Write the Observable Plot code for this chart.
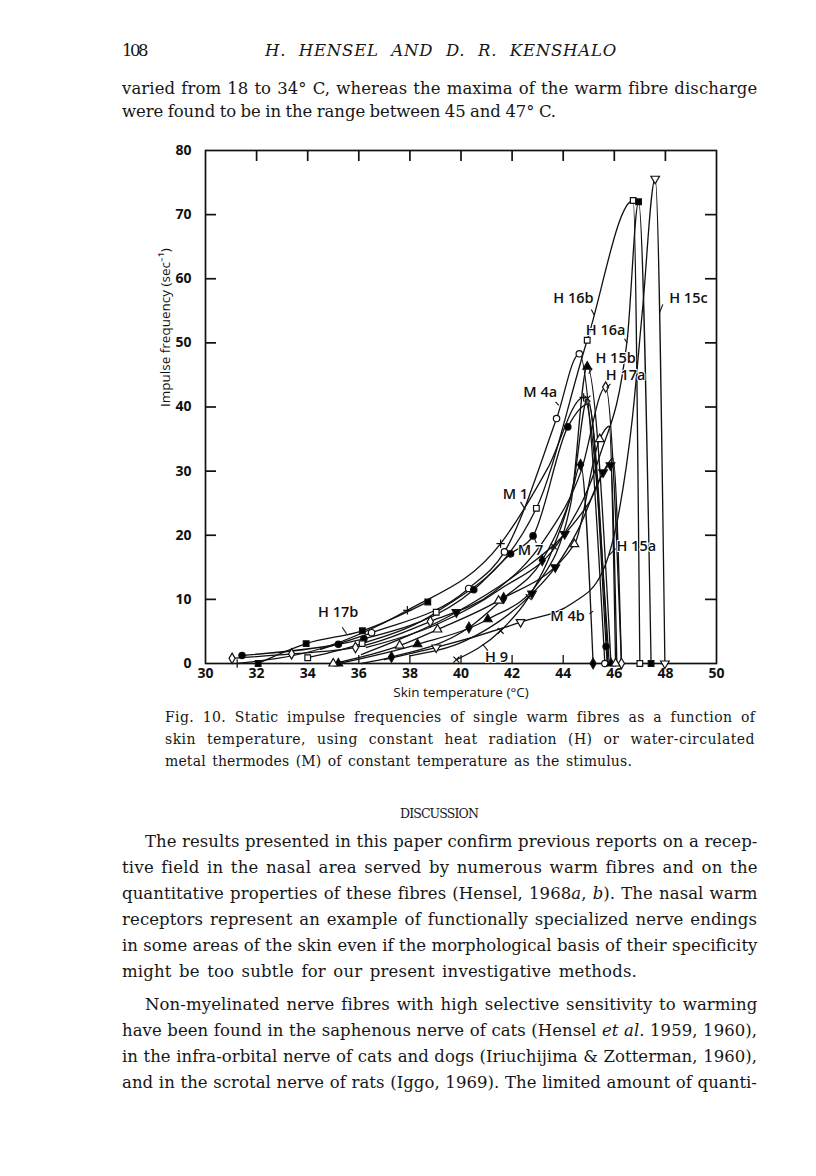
<!DOCTYPE html>
<html><head><meta charset="utf-8">
<script src="https://cdn.jsdelivr.net/npm/d3@7"></script>
<script src="https://cdn.jsdelivr.net/npm/@observablehq/plot@0.6"></script>
<style>
body{margin:0;background:#fff;}
#page{position:relative;width:816px;height:1176px;overflow:hidden;font-family:"DejaVu Serif",serif;color:#161616;background:#fff;}
.ln{position:absolute;white-space:nowrap;line-height:1;}
#chart{position:absolute;left:0;top:130px;}
</style></head><body><div id="page"><div id="chart"></div></div>
<script>
// ---------- data ----------
const xLabelTicks = [30,32,34,36,38,40,42,44,46,48,50];
const yLabelTicks = [0,10,20,30,40,50,60,70,80];
const topTicks = [32,34,36,38,40,42,44,46,48];
const sideTicks = [10,20,30,40,50,60,70];
const bottomTicks = [36,38,40,42,44];
const xTitle = "Skin temperature (°C)";
const yTitle = "Impulse frequency (sec⁻¹)";

// [temperature °C, impulses/s, marker shown]
const H17b = [[32.06,0,1],[33.94,3.1,1],[36.14,5.1,1],[38.7,9.6,1]];
const H17a = [[31.04,0.8,1],[33.37,1.5,1],[35.87,2.5,1],[38.8,6.55,1],[41.3,11.2,0],[43.3,19.5,0],[44.7,30,0],[45.66,43.1,1],[46.28,0,1]];
const M4a  = [[34.5,2.2,0],[36.5,4.8,1],[40.3,11.7,1],[41.7,17.4,1],[43.74,38.2,1],[44.63,48.3,1],[45.63,0,1]];
const M1   = [[31.24,0,1],[34.5,2.3,0],[37.9,8.3,1],[41.55,18.7,1],[43.4,30.5,0],[44.8,41.5,1],[45.8,0,0]];
const M7   = [[31.43,1.25,1],[35.2,3.0,1],[36.2,3.85,1],[40.5,11.5,1],[41.94,17.1,1],[42.82,19.9,1],[44.18,36.9,1],[45.0,40.5,0],[45.68,2.65,1],[45.72,0,0]];
const H16b = [[34.0,0.9,1],[36.13,3.1,1],[39.03,8.0,1],[42.95,24.2,1],[44.94,50.4,1],[46.74,72.2,1],[47.0,0,1]];
const H16a = [[36.3,2.5,0],[39.0,6.0,0],[41.5,11.5,0],[44.0,20,0],[45.4,32,0],[46.5,50.3,0],[46.95,72,1],[47.44,0,1]];
const H15c = [[37.0,0.6,0],[39.03,2.5,1],[42.33,6.45,1],[44.4,9.5,0],[45.5,14,0],[46.2,24,0],[46.7,38,0],[47.1,55,0],[47.6,75.6,1],[47.98,0,1]];
const H15a = [[36.1,1.4,0],[39.82,8.0,1],[42.2,14,0],[44.06,20.2,1],[45.0,25,0],[45.85,30.9,1],[46.1,0,0]];
const M4b  = [[38.0,1.2,0],[40.2,3.6,0],[42.78,10.9,1],[43.69,15,1],[44.6,21,0],[45.56,29.8,1],[45.95,32,0],[46.28,0,0]];
const H15b = [[35.2,0,1],[38.3,3.0,1],[41.05,6.9,1],[43.0,12.5,0],[44.3,25,0],[44.94,46.3,1],[45.87,0,1]];
const H9   = [[39.82,0.6,1],[41.55,5.1,1],[42.65,10.35,1],[43.63,18.25,1],[44.4,28,0],[44.95,41.3,1],[45.75,0,0]];
const OT   = [[35.0,0,1],[37.6,2.8,1],[39.08,5.3,1],[41.47,9.8,1],[44.44,18.6,1],[45.43,35,1],[45.8,37,0],[46.05,0,1]];
const FD   = [[36.1,0,0],[37.28,1.0,1],[40.31,5.6,1],[41.67,10.2,1],[43.18,16.1,1],[44.3,26,0],[44.68,31,1],[45.17,0,1]];

const labelText = ["H 16b","H 16a","H 15c","H 15b","H 17a","M 4a","M 1","M 7","H 15a","M 4b","H 17b","H 9"];
const labelX    = [44.40,45.66,48.9,46.05,46.44,43.1,42.13,42.72,46.86,44.17,35.19,41.39];
const labelY    = [56.9,51.9,56.9,47.6,44.9,42.3,26.4,17.6,18.3,7.35,8.0,1.0];
const leadX1    = [45.1,46.4,47.9,45.13,45.85,43.7,42.33,42.95,46.05,45.03,35.35,41.05];
const leadY1    = [55.2,50.65,56.0,46.0,43.6,40.8,25.2,18.8,17.9,7.75,5.66,2.0];
const leadX2    = [45.22,46.5,47.76,45.0,45.7,43.83,42.52,42.88,45.79,45.17,35.52,40.85];
const leadY2    = [54.3,50.0,54.6,45.2,43.0,40.25,24.0,19.4,16.85,8.16,4.63,3.0];

// ---------- symbols ----------
const invTriangle = {draw(ctx, size){
  const s3 = Math.sqrt(3), y = -Math.sqrt(size/(s3*3));
  ctx.moveTo(0, -y*2); ctx.lineTo(-s3*y, y); ctx.lineTo(s3*y, y); ctx.closePath();
}};
const series = [
  {d:H17b, sym:"square", fill:"black"},
  {d:H17a, sym:"diamond", fill:"white"},
  {d:M4a, sym:"circle", fill:"white"},
  {d:M1, sym:"plus", fill:"none"},
  {d:M7, sym:"circle", fill:"black"},
  {d:H16b, sym:"square", fill:"white"},
  {d:H16a, sym:"square", fill:"black"},
  {d:H15c, sym:invTriangle, fill:"white"},
  {d:H15a, sym:invTriangle, fill:"black"},
  {d:M4b, sym:invTriangle, fill:"black"},
  {d:H15b, sym:"triangle", fill:"black"},
  {d:H9, sym:"times", fill:"none"},
  {d:OT, sym:"triangle", fill:"white"},
  {d:FD, sym:"diamond", fill:"black"}
];

const lineMarks = series.map(s => Plot.line(s.d, {x:d=>d[0], y:d=>d[1], curve:"monotone-x", stroke:"#111", strokeWidth:1.3}));
const dotMarks = series.map(s => Plot.dot(s.d.filter(d=>d[2]), {x:d=>d[0], y:d=>d[1], symbol:s.sym,
  fill:s.fill, stroke:"#111", strokeWidth:1.2, r:(s.sym==="plus"||s.sym==="times")?2.8:3.2}));
const labelIdx = labelText.map((_,i)=>i);

const plot = Plot.plot({
  width:816, height:580,
  marginLeft:205, marginRight:100, marginTop:20, marginBottom:47,
  x:{domain:[30,50]}, y:{domain:[0,80]},
  style:{fontFamily:"'Open Sans', sans-serif", fontSize:"13px", color:"#111", background:"white"},
  marks:[
    Plot.frame({stroke:"#111", strokeWidth:1.7}),
    Plot.axisX({ticks:xLabelTicks, tickSize:0, tickPadding:5, tickFormat:d=>String(d), label:null, fontWeight:700, fontSize:14}),
    Plot.axisY({ticks:yLabelTicks, tickSize:0, tickPadding:14, tickFormat:d=>String(d), label:null, fontWeight:700, fontSize:14}),
    Plot.ruleX(topTicks, {x:d=>d, insetBottom:502, stroke:"#111", strokeWidth:1.7}),
    Plot.ruleX(bottomTicks, {x:d=>d, insetTop:505, stroke:"#111", strokeWidth:1.3}),
    Plot.ruleY(sideTicks, {y:d=>d, insetRight:500, stroke:"#111", strokeWidth:1.7}),
    Plot.ruleY(sideTicks, {y:d=>d, insetLeft:500, stroke:"#111", strokeWidth:1.7}),
    ...lineMarks,
    ...dotMarks,
    Plot.link(labelIdx, {x1:i=>leadX1[i], y1:i=>leadY1[i], x2:i=>leadX2[i], y2:i=>leadY2[i], stroke:"#111", strokeWidth:1.1}),
    Plot.text(labelIdx, {x:i=>labelX[i], y:i=>labelY[i], text:i=>labelText[i], fontSize:14.5, fontWeight:600, fill:"#111", stroke:"white", strokeWidth:2, paintOrder:"stroke"}),
    Plot.text([xTitle], {frameAnchor:"bottom", dy:33, text:d=>d, fontSize:13.5, fill:"#111"}),
    Plot.text([yTitle], {frameAnchor:"left", dx:-40, rotate:-90, text:d=>d, fontSize:13.5, fill:"#111"})
  ]
});
document.getElementById("chart").appendChild(plot);

// ---------- page text ----------
const page = document.getElementById("page");
const textLines = [
  ["108", 122, 146, 52, 16.5, {}],
  ["H. HENSEL AND D. R. KENSHALO", 265, 617, 52, 16.5, {italic:true}],
  ["varied from 18 to 34° C, whereas the maxima of the warm fibre discharge", 122, 757, 90, 16.5, {}],
  ["were found to be in the range between 45 and 47° C.", 122, 556, 113, 16.5, {}],
  ["Fig. 10. Static impulse frequencies of single warm fibres as a function of", 165, 755, 718, 14, {}],
  ["skin temperature, using constant heat radiation (H) or water-circulated", 165, 755, 740, 14, {}],
  ["metal thermodes (M) of constant temperature as the stimulus.", 165, 632, 762, 14, {}],
  ["DISCUSSION", 400, 478, 815, 12.5, {}],
  ["The results presented in this paper confirm previous reports on a recep-", 145, 757, 843, 16.5, {}],
  ["tive field in the nasal area served by numerous warm fibres and on the", 122, 757, 869, 16.5, {}],
  ["quantitative properties of these fibres (Hensel, 1968<i>a</i>, <i>b</i>). The nasal warm", 122, 757, 895, 16.5, {}],
  ["receptors represent an example of functionally specialized nerve endings", 122, 757, 921, 16.5, {}],
  ["in some areas of the skin even if the morphological basis of their specificity", 122, 757, 947, 16.5, {}],
  ["might be too subtle for our present investigative methods.", 122, 637, 973, 16.5, {}],
  ["Non-myelinated nerve fibres with high selective sensitivity to warming", 145, 757, 1006, 16.5, {}],
  ["have been found in the saphenous nerve of cats (Hensel <i>et al.</i> 1959, 1960),", 122, 757, 1032, 16.5, {}],
  ["in the infra-orbital nerve of cats and dogs (Iriuchijima &amp; Zotterman, 1960),", 122, 757, 1058, 16.5, {}],
  ["and in the scrotal nerve of rats (Iggo, 1969). The limited amount of quanti-", 122, 757, 1084, 16.5, {}]
];
for (const [t, x0, x1, yc, size, o] of textLines) {
  const el = document.createElement("div");
  el.className = "ln";
  el.innerHTML = t;
  el.style.fontSize = size + "px";
  el.style.left = x0 + "px";
  el.style.top = (yc - size*0.55) + "px";
  if (o.italic) el.style.fontStyle = "italic";
  page.appendChild(el);
  const w = el.getBoundingClientRect().width;
  const txt = el.textContent;
  const spaces = (txt.match(/ /g) || []).length;
  const extra = (x1 - x0) - w;
  const a = spaces ? 0.4 : 1;
  const ls = extra * a / txt.length;
  const ws = spaces ? extra * (1 - a) / spaces : 0;
  el.style.letterSpacing = ls + "px";
  el.style.wordSpacing = ws + "px";
}
</script></body></html>
